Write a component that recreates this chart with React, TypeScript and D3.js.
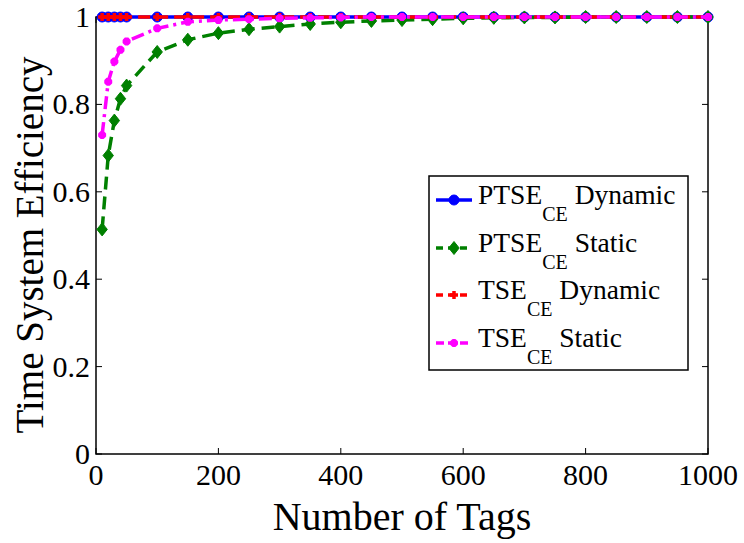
import React from 'react';
import * as d3 from 'd3';

// Number of tags at which each curve was sampled
const tags = [10, 20, 30, 40, 50, 100, 150, 200, 250, 300, 350, 400, 450, 500, 550, 600, 650, 700, 750, 800, 850, 900, 950, 1000];

// Efficiency values
const ptseDynamic = [1, 1, 1, 1, 1, 1, 1, 1, 1, 1, 1, 1, 1, 1, 1, 1, 1, 1, 1, 1, 1, 1, 1, 1];
const ptseStatic = [0.514, 0.683, 0.763, 0.813, 0.843, 0.92, 0.948, 0.963, 0.972, 0.978, 0.984, 0.988, 0.991, 0.993, 0.995, 0.997, 0.998, 0.999, 0.999, 1, 1, 1, 1, 1];
const tseDynamic = [1, 1, 1, 1, 1, 1, 1, 1, 1, 1, 1, 1, 1, 1, 1, 1, 1, 1, 1, 1, 1, 1, 1, 1];
const tseStatic = [0.73, 0.852, 0.898, 0.925, 0.944, 0.974, 0.989, 0.993, 0.995, 0.997, 0.998, 0.999, 1, 1, 1, 1, 1, 1, 1, 1, 1, 1, 1, 1];

const xTicks = [0, 200, 400, 600, 800, 1000];
const yTicks = [0, 0.2, 0.4, 0.6, 0.8, 1];

const FONT = "'Liberation Serif', 'Times New Roman', serif";
const serif = { fontFamily: FONT };

type Series = {
  name: string;
  values: number[];
  color: string;
  dash: string;
  marker: 'circle' | 'diamond' | 'plus' | 'star';
};

const series: Series[] = [
  { name: 'PTSE', values: ptseDynamic, color: '#0000ff', dash: '', marker: 'circle' },
  { name: 'PTSE', values: ptseStatic, color: '#008000', dash: '13,7', marker: 'diamond' },
  { name: 'TSE', values: tseDynamic, color: '#ff0000', dash: '12,6', marker: 'plus' },
  { name: 'TSE', values: tseStatic, color: '#ff00ff', dash: '13,5,3,5', marker: 'star' },
];
const legendSuffix = ['Dynamic', 'Static', 'Dynamic', 'Static'];

const Marker = ({ kind, x, y, color }: { kind: Series['marker']; x: number; y: number; color: string }) => {
  if (kind === 'circle') return <circle cx={x} cy={y} r={5} fill={color} stroke={color} strokeWidth={1} />;
  if (kind === 'diamond') {
    const s = 6.5;
    return <path d={`M${x},${y - s}L${x + s * 0.8},${y}L${x},${y + s}L${x - s * 0.8},${y}Z`} fill={color} stroke={color} strokeWidth={1} />;
  }
  if (kind === 'plus') {
    const s = 4;
    return <path d={`M${x - s},${y}H${x + s}M${x},${y - s}V${y + s}`} stroke={color} strokeWidth={3.5} fill="none" />;
  }
  const s = 4;
  const d = 2.8;
  return (
    <path
      d={`M${x - s},${y}H${x + s}M${x},${y - s}V${y + s}M${x - d},${y - d}L${x + d},${y + d}M${x - d},${y + d}L${x + d},${y - d}`}
      stroke={color}
      strokeWidth={3}
      fill="none"
    />
  );
};

const App = () => {
  const width = 744;
  const height = 543;
  const x = d3.scaleLinear().domain([0, 1000]).range([96, 708]);
  const y = d3.scaleLinear().domain([0, 1]).range([454, 17]);

  const line = d3
    .line<number>()
    .x((_, i) => x(tags[i]))
    .y((d) => y(d));

  const [x0, x1] = x.range();
  const [y0, y1] = y.range();

  // legend placement
  const lgX = 429;
  const lgY = 176;
  const lgW = 259;
  const lgH = 194;
  const rowY = [200, 248, 295, 343];

  return (
    <svg width={width} height={height} style={{ position: 'absolute', left: 0, top: 0, background: '#fff' }}>
      <rect width={width} height={height} fill="#fff" />

      {/* axis box */}
      <rect x={x0} y={y1} width={x1 - x0} height={y0 - y1} fill="none" stroke="#000" strokeWidth={1.5} />

      {/* ticks (inward, both sides) */}
      {xTicks.map((t) => (
        <g key={'xt' + t}>
          <line x1={x(t)} x2={x(t)} y1={y0} y2={y0 - 6} stroke="#000" strokeWidth={1} />
          <line x1={x(t)} x2={x(t)} y1={y1} y2={y1 + 6} stroke="#000" strokeWidth={1} />
          <text x={x(t)} y={485} textAnchor="middle" style={serif} fontSize={30} fill="#000">
            {t}
          </text>
        </g>
      ))}
      {yTicks.map((t) => (
        <g key={'yt' + t}>
          <line x1={x0} x2={x0 + 6} y1={y(t)} y2={y(t)} stroke="#000" strokeWidth={1} />
          <line x1={x1} x2={x1 - 6} y1={y(t)} y2={y(t)} stroke="#000" strokeWidth={1} />
          <text x={90} y={y(t) + 10} textAnchor="end" style={serif} fontSize={30} fill="#000">
            {d3.format('~g')(t)}
          </text>
        </g>
      ))}

      {/* series */}
      {series.map((s, si) => (
        <g key={'s' + si}>
          <path d={line(s.values) ?? ''} fill="none" stroke={s.color} strokeWidth={3.5} strokeDasharray={s.dash || undefined} />
          {s.values.map((v, i) => (
            <Marker key={i} kind={s.marker} x={x(tags[i])} y={y(v)} color={s.color} />
          ))}
        </g>
      ))}

      {/* axis labels */}
      <text x={(x0 + x1) / 2} y={530} textAnchor="middle" style={serif} fontSize={40} fill="#000">
        Number of Tags
      </text>
      <text
        transform="translate(43, 245) rotate(-90)"
        textAnchor="middle"
        style={serif}
        fontSize={39}
        fill="#000"
      >
        Time System Efficiency
      </text>

      {/* legend */}
      <rect x={lgX} y={lgY} width={lgW} height={lgH} fill="#fff" stroke="#000" strokeWidth={1.5} />
      {series.map((s, i) => (
        <g key={'lg' + i}>
          <line x1={436} x2={472} y1={rowY[i]} y2={rowY[i]} stroke={s.color} strokeWidth={3.5} strokeDasharray={s.dash ? (s.marker === 'star' ? '8,4' : '7,5') : undefined} />
          <Marker kind={s.marker} x={454} y={rowY[i]} color={s.color} />
          <text x={478} y={rowY[i] + 4} style={serif} fontSize={27.5} fill="#000">
            {s.name}
            <tspan fontSize={20} dy={17}>CE</tspan>
            <tspan dy={-17}> {legendSuffix[i]}</tspan>
          </text>
        </g>
      ))}
    </svg>
  );
};

export default App;
